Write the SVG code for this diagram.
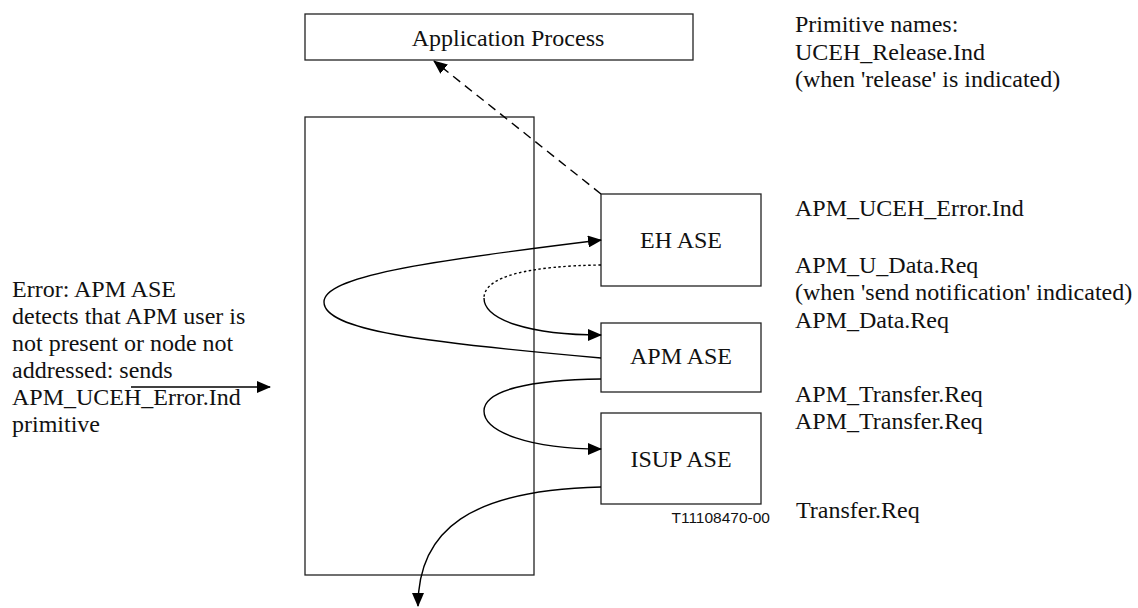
<svg xmlns="http://www.w3.org/2000/svg" width="1138" height="608" viewBox="0 0 1138 608">
  <style>
    .box { fill: #fff; stroke: #222; stroke-width: 1.3; }
    .frame { fill: none; stroke: #222; stroke-width: 1.3; }
    .lbl { font-family: "Liberation Serif", Tinos, "Times New Roman", "DejaVu Serif", serif; font-size: 24px; fill: #111; }
    .mid { text-anchor: middle; }
    .ref { font-family: "Liberation Sans", Arial, sans-serif; font-size: 15.5px; fill: #111; }
    .ln { fill: none; stroke: #000; stroke-width: 1.4; }
  </style>
  <defs>
    <marker id="ah" viewBox="0 0 14 12" refX="13" refY="6" markerWidth="14" markerHeight="12" markerUnits="userSpaceOnUse" orient="auto">
      <path d="M0,0 L14,6 L0,12 Z" fill="#000"/>
    </marker>
  </defs>

  <rect width="1138" height="608" fill="#fff"/>

  <g id="app-process">
    <rect class="box" x="305" y="14" width="388" height="46"/>
    <text class="lbl mid" x="508" y="46" font-family="Liberation Serif, serif">Application Process</text>
  </g>

  <g id="container">
    <rect class="frame" x="305" y="117" width="229" height="458"/>
  </g>

  <g id="eh-ase">
    <rect class="box" x="601" y="194" width="160" height="92"/>
    <text class="lbl mid" x="681" y="248">EH ASE</text>
  </g>

  <g id="apm-ase">
    <rect class="box" x="601" y="323" width="160" height="69"/>
    <text class="lbl mid" x="681" y="364">APM ASE</text>
  </g>

  <g id="isup-ase">
    <rect class="box" x="601" y="413" width="160" height="91"/>
    <text class="lbl mid" x="681" y="467">ISUP ASE</text>
  </g>

  <g id="connectors">
    <!-- EH ASE to Application Process (dashed) -->
    <path class="ln" d="M601,194 L434,61" stroke-dasharray="9,6" marker-end="url(#ah)"/>
    <!-- APM ASE loop back to EH ASE -->
    <path class="ln" d="M601,358 C420,342 324,330 324,302 C324,277 420,262 601,240" marker-end="url(#ah)"/>
    <!-- EH ASE to APM ASE: dotted part then solid part -->
    <path class="ln" d="M601,265 C530,266 484,276 484,298" stroke-dasharray="2.5,2.5"/>
    <path class="ln" d="M484,298 C484,320 530,335 601,335" marker-end="url(#ah)"/>
    <!-- APM ASE to ISUP ASE -->
    <path class="ln" d="M601,379 C530,380 484,390 484,411 C484,432 530,449 601,449" marker-end="url(#ah)"/>
    <!-- ISUP ASE outgoing -->
    <path class="ln" d="M601,487 C470,490 418,530 418,606" marker-end="url(#ah)"/>
    <!-- incoming error -->
    <path class="ln" d="M131,387 L270,387" marker-end="url(#ah)"/>
  </g>

  <g id="left-note">
    <text class="lbl" x="12" y="297">Error: APM ASE</text>
    <text class="lbl" x="12" y="324">detects that APM user is</text>
    <text class="lbl" x="12" y="351">not present or node not</text>
    <text class="lbl" x="12" y="378">addressed: sends</text>
    <text class="lbl" x="12" y="405">APM_UCEH_Error.Ind</text>
    <text class="lbl" x="12" y="432">primitive</text>
  </g>

  <g id="primitive-names">
    <text class="lbl" x="795" y="32">Primitive names:</text>
    <text class="lbl" x="795" y="60">UCEH_Release.Ind</text>
    <text class="lbl" x="795" y="87">(when 'release' is indicated)</text>
    <text class="lbl" x="795" y="216">APM_UCEH_Error.Ind</text>
    <text class="lbl" x="795" y="273">APM_U_Data.Req</text>
    <text class="lbl" x="795" y="300">(when 'send notification' indicated)</text>
    <text class="lbl" x="795" y="328">APM_Data.Req</text>
    <text class="lbl" x="795" y="402">APM_Transfer.Req</text>
    <text class="lbl" x="795" y="429">APM_Transfer.Req</text>
    <text class="lbl" x="796" y="518">Transfer.Req</text>
  </g>

  <text class="ref" x="770" y="523" text-anchor="end">T11108470-00</text>
</svg>
